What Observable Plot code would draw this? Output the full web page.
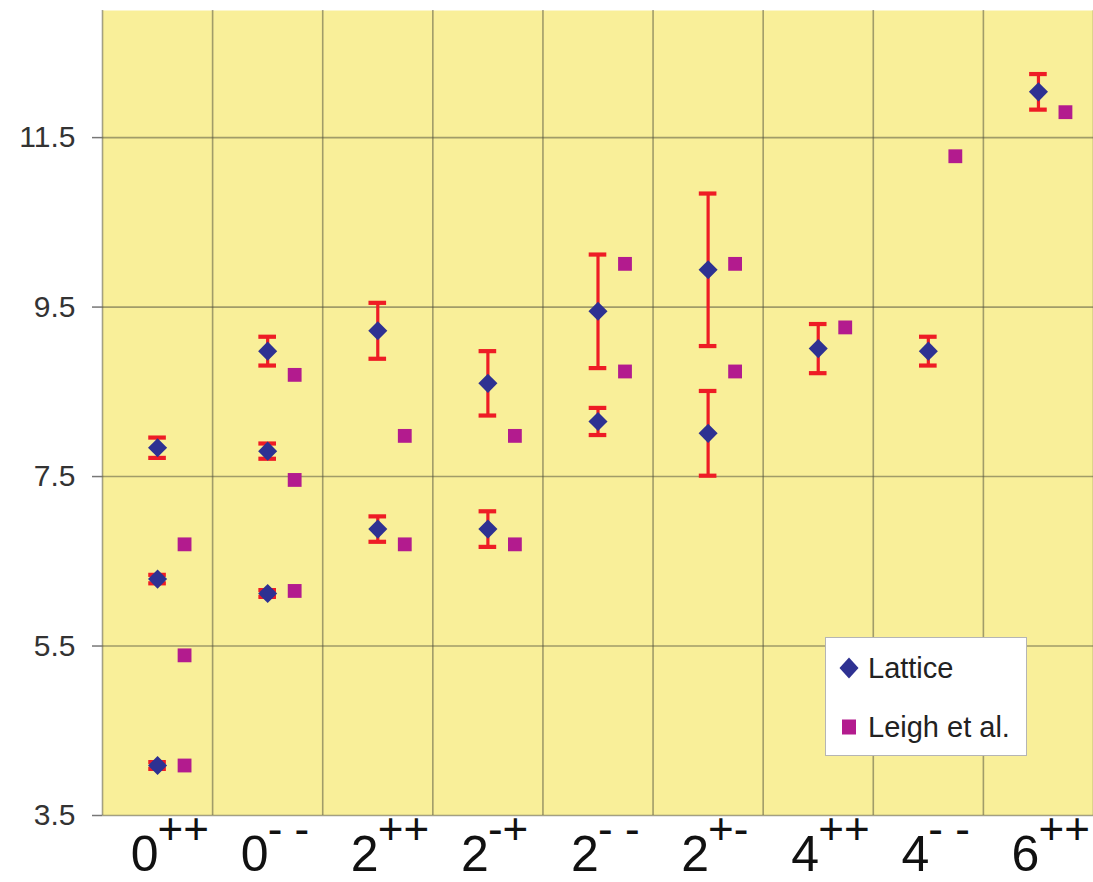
<!DOCTYPE html>
<html>
<head>
<meta charset="utf-8">
<script src="https://cdn.jsdelivr.net/npm/d3@7"></script>
<script src="https://cdn.jsdelivr.net/npm/@observablehq/plot@0.6"></script>
<style>
  body { margin: 0; background: #fff; }
  #wrap { position: relative; width: 1093px; height: 882px; overflow: hidden; }
  #legend {
    position: absolute; left: 825px; top: 637px; width: 202px; height: 119px;
    background: #fff; border: 1.5px solid #b5b5b5; box-sizing: border-box;
    font-family: 'Liberation Sans', Arial, sans-serif;
    font-size: 29px; color: #222; white-space: nowrap;
  }
  #legend .item { position: absolute; left: 0; height: 40px; display: flex; align-items: center; }
  #legend svg { margin-left: 12px; margin-right: 8px; }
</style>
</head>
<body>
<div id="wrap">
  <div id="chart"></div>
  <div id="legend">
    <div class="item" style="top:10px;"><svg width="22" height="24" viewBox="-11 -12 22 24"><path d="M0,-10.5L9.5,0L0,10.5L-9.5,0Z" fill="#2E3192"/></svg><span>Lattice</span></div>
    <div class="item" style="top:69px;"><svg width="22" height="24" viewBox="-11 -12 22 24"><rect x="-7" y="-7.5" width="14" height="15" fill="#B31B8E"/></svg><span>Leigh et al.</span></div>
  </div>
</div>
<script>
// Categories (quantum numbers J^PC)
const categoryDigits = ["0", "0", "2", "2", "2", "2", "4", "4", "6"];
const categorySupers = ["++", "- -", "++", "-+", "- -", "+-", "++", "- -", "++"];

// Lattice results: category index, value, error
const latticeCat   = [0, 0, 0, 1, 1, 1, 2, 2, 3, 3, 4, 4, 5, 5, 6, 7, 8];
const latticeValue = [7.84, 6.29, 4.09, 8.98, 7.80, 6.12, 9.22, 6.88, 8.60, 6.88, 9.45, 8.15, 9.94, 8.01, 9.01, 8.98, 12.04];
const latticeError = [0.12, 0.05, 0.04, 0.17, 0.09, 0.04, 0.33, 0.15, 0.38, 0.21, 0.67, 0.16, 0.90, 0.50, 0.29, 0.17, 0.21];

// Leigh et al. values
const leighCat   = [0, 0, 0, 1, 1, 1, 2, 2, 3, 3, 4, 4, 5, 5, 6, 7, 8];
const leighValue = [6.70, 5.39, 4.09, 8.70, 7.46, 6.15, 7.98, 6.70, 7.98, 6.70, 10.01, 8.74, 10.01, 8.74, 9.26, 11.28, 11.80];

// Axis ticks
const yTicks = [3.5, 5.5, 7.5, 9.5, 11.5];
const columnEdges = d3.range(0, categoryDigits.length + 1);

const lattice = latticeCat.map((c, i) => ({x: c + 0.5, v: latticeValue[i], lo: latticeValue[i] - latticeError[i], hi: latticeValue[i] + latticeError[i]}));
const leigh = leighCat.map((c, i) => ({x: c + 0.5, v: leighValue[i]}));
const labels = categoryDigits.map((d, i) => ({x: i + 0.5, digit: d, sup: categorySupers[i]}));

const FONT = "'Liberation Sans', Arial, sans-serif";
const RED = "#EE1C25";
const capHalf = 0.08; // cap half-width in column units

const chart = Plot.plot({
  width: 1093, height: 882,
  marginLeft: 102, marginRight: 0, marginTop: 10, marginBottom: 67,
  style: {fontFamily: FONT, background: "transparent", overflow: "visible"},
  x: {domain: [0, categoryDigits.length], axis: null},
  y: {domain: [3.5, 13], axis: null},
  marks: [
    Plot.frame({fill: "#F9EF99", stroke: "none"}),
    Plot.gridY({ticks: yTicks, stroke: "#4a4a3a", strokeOpacity: 0.5, strokeWidth: 1.6}),
    Plot.gridX({ticks: columnEdges, stroke: "#4a4a3a", strokeOpacity: 0.5, strokeWidth: 1.6}),
    Plot.axisY({ticks: yTicks, tickSize: 10, tickPadding: 17, tickFormat: d => d.toFixed(1),
      fontSize: 30, stroke: "#777", color: "#333", strokeWidth: 1.5}),
    // error bars
    Plot.ruleX(lattice, {x: "x", y1: "lo", y2: "hi", stroke: RED, strokeWidth: 3.2}),
    Plot.ruleY(lattice, {x1: d => d.x - capHalf, x2: d => d.x + capHalf, y: "hi", stroke: RED, strokeWidth: 4.2}),
    Plot.ruleY(lattice, {x1: d => d.x - capHalf, x2: d => d.x + capHalf, y: "lo", stroke: RED, strokeWidth: 4.2}),
    // Leigh et al.
    Plot.dot(leigh, {x: "x", y: "v", dx: 27, symbol: "square", r: 7.8, fill: "#B31B8E", stroke: "none"}),
    // Lattice
    Plot.dot(lattice, {x: "x", y: "v", symbol: "diamond2", r: 8.6, fill: "#2E3192", stroke: "none"}),
    // x labels
    Plot.text(labels, {x: "x", text: "digit", frameAnchor: "bottom", lineAnchor: "bottom", dy: 55, dx: -13,
      fontSize: 50, fill: "#111", textAnchor: "middle"}),
    Plot.text(labels, {x: "x", text: "sup", frameAnchor: "bottom", lineAnchor: "bottom", dy: 28, dx: 0,
      fontSize: 44, fill: "#111", textAnchor: "start"})
  ]
});
document.getElementById("chart").appendChild(chart);
</script>
</body>
</html>
